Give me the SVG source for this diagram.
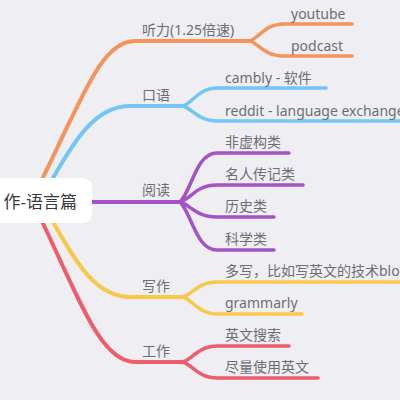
<svg xmlns="http://www.w3.org/2000/svg" width="400" height="400" viewBox="0 0 400 400">
<style>
.t{font-family:"Noto Sans","Noto Sans CJK SC",sans-serif;font-size:14px;fill:#6e6e72}
.c{font-family:"Noto Sans","Noto Sans CJK SC",sans-serif;font-size:17px;fill:#3a3a3c}
.l{fill:none;stroke-linecap:round;stroke-linejoin:round}
.m{stroke-width:4}
.s{stroke-width:3.5}
.or{stroke:#F4935A}.bl{stroke:#72C6F5}.pu{stroke:#A353C6}.ye{stroke:#F8C84A}.re{stroke:#EE5D6C}
</style>
<rect width="400" height="400" fill="#EEEEF3"/>
<g id="connectors">
<path class="l m or" d="M32,200 C82,100 100,41 135,41 L250,41"/>
<path class="l s or" d="M250,41 C260,37 265,24 284,24 L352,24"/>
<path class="l s or" d="M250,41 C260,45 265,56 284,56 L352,56"/>
<path class="l m bl" d="M40,200 C70,150 90,106 130,106 L183,106"/>
<path class="l s bl" d="M183,106 C194,102 198,88 218,88 L326,88"/>
<path class="l s bl" d="M183,106 C194,110 198,121 218,121 L410,121"/>
<path class="l m pu" d="M80,202 L180,202"/>
<path class="l s pu" d="M180,202 C192,190 196,153 217,153 L289,153"/>
<path class="l s pu" d="M180,202 C192,198 196,185 217,185 L303,185"/>
<path class="l s pu" d="M180,202 C192,206 196,217 217,217 L274,217"/>
<path class="l s pu" d="M180,202 C192,214 196,250 217,250 L274,250"/>
<path class="l m ye" d="M40,200 C70,250 90,297 130,297 L183,297"/>
<path class="l s ye" d="M183,297 C194,293 198,282 218,282 L410,282"/>
<path class="l s ye" d="M183,297 C194,301 198,314 218,314 L302,314"/>
<path class="l m re" d="M32,200 C80,300 100,362 135,362 L183,362"/>
<path class="l s re" d="M183,362 C194,358 198,346 218,346 L289,346"/>
<path class="l s re" d="M183,362 C194,366 198,378 218,378 L318,378"/>
</g>
<g id="root">
<rect x="-20" y="178" width="112" height="45" rx="9" fill="#FFFFFF"/>
<text class="c" x="77" y="208" text-anchor="end">作-语言篇</text>
</g>
<g id="listening">
<text class="t" x="142" y="35">听力(1.25倍速)</text>
<text class="t" x="291" y="19">youtube</text>
<text class="t" x="291" y="51">podcast</text>
</g>
<g id="speaking">
<text class="t" x="142" y="100">口语</text>
<text class="t" x="225" y="83">cambly - 软件</text>
<text class="t" x="225" y="116">reddit - language exchange</text>
</g>
<g id="reading">
<text class="t" x="142" y="195">阅读</text>
<text class="t" x="225" y="147">非虚构类</text>
<text class="t" x="225" y="179">名人传记类</text>
<text class="t" x="225" y="211">历史类</text>
<text class="t" x="225" y="244">科学类</text>
</g>
<g id="writing">
<text class="t" x="142" y="291">写作</text>
<text class="t" x="225" y="276">多写，比如写英文的技术blog</text>
<text class="t" x="225" y="308">grammarly</text>
</g>
<g id="work">
<text class="t" x="142" y="356">工作</text>
<text class="t" x="225" y="340">英文搜索</text>
<text class="t" x="225" y="372">尽量使用英文</text>
</g>
</svg>
